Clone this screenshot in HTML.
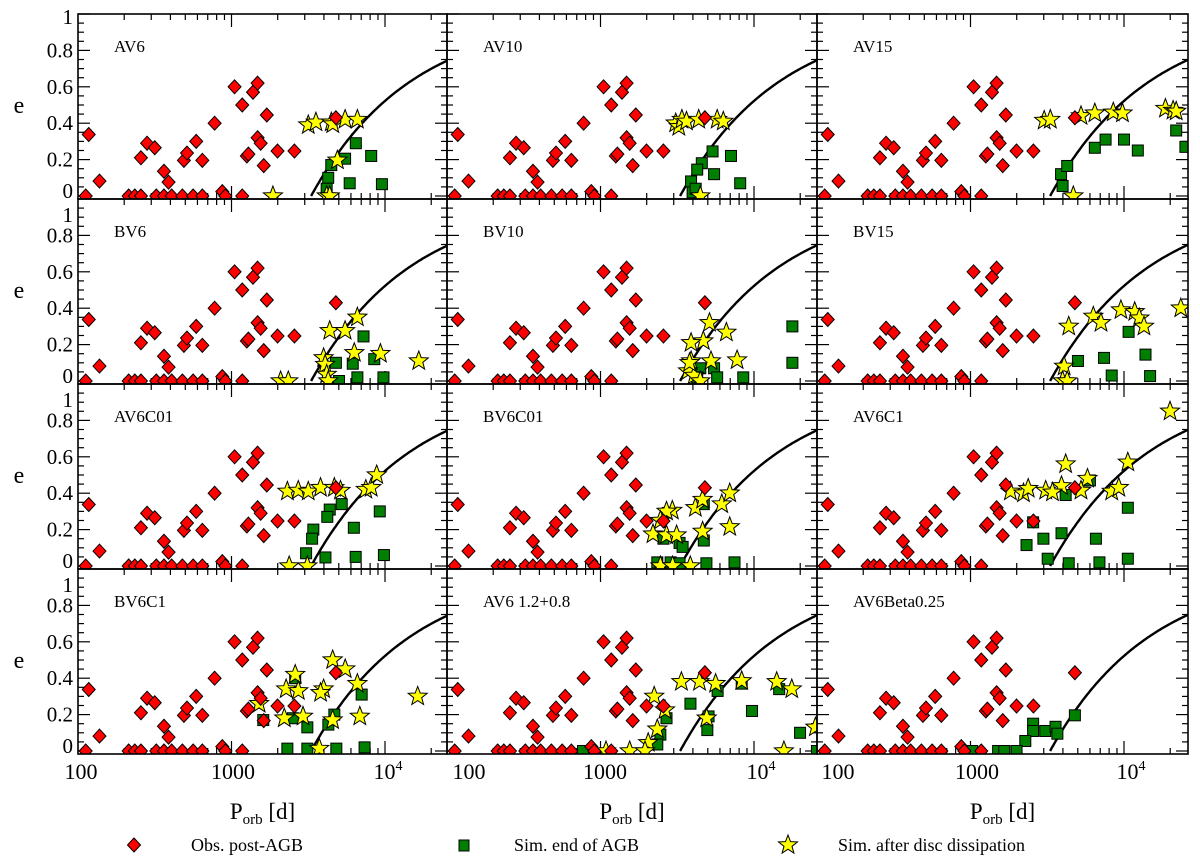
<!DOCTYPE html>
<html><head><meta charset="utf-8"><style>
html,body{margin:0;padding:0;background:#fff}
svg{display:block}
text{font-family:"Liberation Serif",serif;fill:#000}
</style></head><body>
<svg id="chart" width="1200" height="863" viewBox="0 0 1200 863" xmlns="http://www.w3.org/2000/svg"></svg>
<script>
// Observed post-AGB binaries (log10 P [d], e)
const obsLogP = [2.07,2.14,2.05,2.33,2.37,2.41,2.51,2.56,2.61,2.68,2.75,2.81,2.94,2.96,3.07,2.41,2.45,2.50,2.56,2.59,2.69,2.71,2.77,2.81,2.89,3.02,3.07,3.10,3.11,3.14,3.17,3.17,3.19,3.21,3.23,3.30,3.41,3.68];
const obsE    = [0.338,0.082,0,0,0,0,0,0,0,0,0,0,0.024,0,0,0.21,0.29,0.265,0.136,0.076,0.196,0.236,0.30,0.196,0.40,0.60,0.50,0.22,0.23,0.57,0.62,0.32,0.29,0.167,0.445,0.247,0.247,0.43];

const panelNames = ["AV6","AV10","AV15","BV6","BV10","BV15","AV6C01","BV6C01","AV6C1","BV6C1","AV6 1.2+0.8","AV6Beta0.25"];

const av6GreenLogP = [3.81,3.74,3.91,3.65,3.63,3.77,3.98,3.62];
const av6GreenE    = [0.29,0.205,0.22,0.17,0.10,0.07,0.065,0.04];
const av6StarLogP  = [3.50,3.55,3.65,3.66,3.74,3.82,3.69,3.27,3.62,3.64];
const av6StarE     = [0.39,0.405,0.405,0.395,0.42,0.42,0.196,0,0,0];

const av10GreenLogP = [3.73,3.66,3.63,3.74,3.85,3.91,3.59,3.60,3.62];
const av10GreenE    = [0.245,0.18,0.145,0.12,0.22,0.07,0.08,0.02,0.04];
const av10StarLogP  = [3.49,3.51,3.53,3.56,3.64,3.76,3.80,3.65];
const av10StarE     = [0.40,0.38,0.42,0.41,0.42,0.42,0.41,0];

const av15GreenLogP = [3.59,3.60,3.63,3.81,3.88,4.00,4.09,4.34,4.40];
const av15GreenE    = [0.12,0.055,0.165,0.265,0.31,0.31,0.25,0.36,0.27];
const av15StarLogP  = [3.48,3.52,3.72,3.81,3.93,3.99,4.27,4.32,4.34,3.67];
const av15StarE     = [0.415,0.42,0.44,0.455,0.46,0.455,0.48,0.47,0.465,0];

const bv6GreenLogP = [3.86,3.68,3.79,3.93,3.82,3.99,3.70];
const bv6GreenE    = [0.245,0.10,0.095,0.12,0.02,0.02,0];
const bv6StarLogP  = [3.82,3.64,3.74,3.80,3.97,4.22,3.60,3.61,3.62,3.32,3.37,3.63];
const bv6StarE     = [0.35,0.276,0.276,0.155,0.15,0.11,0.127,0.09,0.036,0,0,0];

const bv10GreenLogP = [4.25,4.25,3.65,3.74,3.76,3.93,3.63];
const bv10GreenE    = [0.30,0.10,0.07,0.07,0.02,0.02,0.02];
const bv10StarLogP  = [3.71,3.82,3.67,3.59,3.89,3.72,3.59,3.57,3.61,3.65,3.58];
const bv10StarE     = [0.32,0.267,0.22,0.21,0.115,0.11,0.11,0.055,0.03,0,0.10];

const bv15GreenLogP = [3.70,3.87,4.03,4.14,3.92,4.17];
const bv15GreenE    = [0.11,0.127,0.27,0.145,0.03,0.027];
const bv15StarLogP  = [3.64,3.80,3.85,3.98,4.07,4.10,4.13,4.37,3.61,3.60,3.63];
const bv15StarE     = [0.30,0.355,0.32,0.39,0.38,0.345,0.30,0.40,0.08,0,0];

const av6c01GreenLogP = [3.718,3.64,3.624,3.533,3.525,3.486,3.612,3.797,3.966,3.809,3.993];
const av6c01GreenE    = [0.34,0.31,0.27,0.20,0.15,0.07,0.047,0.21,0.30,0.05,0.06];
const av6c01StarLogP  = [3.364,3.435,3.50,3.58,3.67,3.71,3.875,3.91,3.946,3.376,3.494];
const av6c01StarE     = [0.41,0.415,0.41,0.43,0.43,0.415,0.42,0.43,0.50,0,0];

const bv6c01GreenLogP = [3.673,3.41,3.515,3.535,3.673,3.37,3.457,3.515,3.69,3.873];
const bv6c01GreenE    = [0.34,0.15,0.127,0.105,0.14,0.02,0.02,0.015,0.015,0.02];
const bv6c01StarLogP  = [3.468,3.43,3.39,3.342,3.43,3.496,3.618,3.665,3.79,3.842,3.842,3.665,3.39,3.47,3.585];
const bv6c01StarE     = [0.305,0.30,0.25,0.175,0.17,0.17,0.32,0.365,0.34,0.40,0.215,0.19,0,0,0];

const av6c1GreenLogP = [3.62,3.778,4.025,3.408,3.475,3.593,3.817,3.365,3.503,3.64,3.84,4.025];
const av6c1GreenE    = [0.39,0.47,0.32,0.24,0.15,0.18,0.15,0.115,0.04,0.015,0.02,0.04];
const av6c1StarLogP  = [4.30,3.62,4.025,3.762,3.26,3.345,3.376,3.49,3.593,3.534,3.72,3.92,3.966];
const av6c1StarE     = [0.85,0.56,0.57,0.48,0.41,0.40,0.425,0.415,0.44,0.405,0.415,0.41,0.43];

const bv6c1GreenLogP = [3.415,3.67,3.848,3.207,3.40,3.494,3.631,3.364,3.494,3.683,3.867];
const bv6c1GreenE    = [0.40,0.20,0.31,0.17,0.18,0.13,0.145,0.013,0.013,0.013,0.02];
const bv6c1StarLogP  = [3.659,3.741,3.415,3.356,3.435,3.60,3.58,3.82,3.18,3.344,3.466,3.659,3.836,4.213,3.572];
const bv6c1StarE     = [0.50,0.45,0.42,0.34,0.33,0.34,0.32,0.37,0.26,0.18,0.19,0.17,0.19,0.30,0.013];

const av6mGreenLogP = [3.92,3.763,4.164,3.586,3.987,3.43,3.704,3.696,3.39,3.37,4.30,2.886,4.41];
const av6mGreenE    = [0.37,0.33,0.34,0.26,0.22,0.18,0.19,0.115,0.09,0.036,0.10,0,0];
const av6mStarLogP  = [3.527,3.645,3.75,3.92,4.148,4.246,3.35,3.42,3.692,3.37,3.311,3.036,3.19,3.29,4.195,4.40];
const av6mStarE     = [0.38,0.38,0.37,0.385,0.38,0.34,0.30,0.225,0.18,0.12,0.045,0,0,0,0,0.13];

const betaGreenLogP = [3.68,3.408,3.408,3.487,3.554,3.566,3.357,3.30,3.18,3.22,3.011];
const betaGreenE    = [0.196,0.15,0.11,0.11,0.133,0.095,0.055,0,0,0,0];
const betaStarLogP  = [];
const betaStarE     = [];

const greenLogP = [av6GreenLogP,av10GreenLogP,av15GreenLogP,bv6GreenLogP,bv10GreenLogP,bv15GreenLogP,av6c01GreenLogP,bv6c01GreenLogP,av6c1GreenLogP,bv6c1GreenLogP,av6mGreenLogP,betaGreenLogP];
const greenE    = [av6GreenE,av10GreenE,av15GreenE,bv6GreenE,bv10GreenE,bv15GreenE,av6c01GreenE,bv6c01GreenE,av6c1GreenE,bv6c1GreenE,av6mGreenE,betaGreenE];
const starLogP  = [av6StarLogP,av10StarLogP,av15StarLogP,bv6StarLogP,bv10StarLogP,bv15StarLogP,av6c01StarLogP,bv6c01StarLogP,av6c1StarLogP,bv6c1StarLogP,av6mStarLogP,betaStarLogP];
const starE     = [av6StarE,av10StarE,av15StarE,bv6StarE,bv10StarE,bv15StarE,av6c01StarE,bv6c01StarE,av6c1StarE,bv6c1StarE,av6mStarE,betaStarE];

const yTickValues = [0,0.2,0.4,0.6,0.8,1];
const yTickLabels = ["0","0.2","0.4","0.6","0.8","1"];
const xTickLabels = ["100","1000","10"];
const curveP0 = 3300;

const NS = "http://www.w3.org/2000/svg";
const svg = document.getElementById("chart");
const colLeft = [78,447,817], colRight = [447,817,1188];
const rowTop = [14,199,384,569], rowH = 185, eSpan = 182, decade = 153.5;

function mk(tag, attrs, parent){
  const el = document.createElementNS(NS, tag);
  for (const k in attrs) el.setAttribute(k, attrs[k]);
  (parent||svg).appendChild(el);
  return el;
}
function xScale(col, lp){ return colLeft[col] + (lp - 2) * decade; }
function yScale(row, e){ return rowTop[row] + eSpan * (1 - e); }
function starPts(cx, cy, R, r){
  let s = [];
  for (let i=0;i<10;i++){ const a = -Math.PI/2 + i*Math.PI/5; const rr = i%2?r:R; s.push((cx+rr*Math.cos(a)).toFixed(1)+","+(cy+rr*Math.sin(a)).toFixed(1)); }
  return s.join(" ");
}

const defs = mk("defs", {});
for (let p=0;p<12;p++){
  const row = Math.floor(p/3), col = p%3;
  const cp = mk("clipPath", {id:"clip"+p}, defs);
  mk("rect", {x:colLeft[col], y:rowTop[row], width:colRight[col]-colLeft[col], height:rowH}, cp);
}

for (let p=0;p<12;p++){
  const row = Math.floor(p/3), col = p%3;
  const L = colLeft[col], R = colRight[col], T = rowTop[row], B = T + rowH;
  const g = mk("g", {});
  
  
  const tk = mk("g", {stroke:"#000","stroke-width":1.2}, g);
  
  
  // x ticks
  for (let d=2; d<=4; d++){
    for (let m=1; m<=9; m++){
      const lp = d + Math.log10(m);
      const x = xScale(col, lp);
      if (x <= L+0.5 || x >= R-0.5) continue;
      const len = m===1 ? 13 : 6;
      mk("line", {x1:x, y1:B, x2:x, y2:B-len}, tk);
      mk("line", {x1:x, y1:T, x2:x, y2:T+len}, tk);
    }
  }
  // y ticks
  for (let i=0;i<=20;i++){
    const e = i*0.05, y = yScale(row, e);
    const len = i%4===0 ? 12 : 6;
    mk("line", {x1:L, y1:y, x2:L+len, y2:y}, tk);
    mk("line", {x1:R, y1:y, x2:R-len, y2:y}, tk);
  }
  // curve
  let d = "";
  for (let lp = Math.log10(curveP0); lp <= 4.45; lp += 0.01){
    const e = 1 - Math.pow(Math.pow(10, lp)/curveP0, -2/3);
    d += (d ? "L" : "M") + xScale(col, lp).toFixed(1) + "," + yScale(row, e).toFixed(1);
  }
  const curve = mk("path", {d:d, fill:"none", stroke:"#000", "stroke-width":2.4, "clip-path":"url(#clip"+p+")"}, g);
  
  

  const mg = mk("g", {"clip-path":"url(#clip"+p+")"}, g);
  
  
  // green squares
  for (let i=0;i<greenLogP[p].length;i++){
    const x = xScale(col, greenLogP[p][i]), y = yScale(row, greenE[p][i]);
    const sq = mk("rect", {x:x-5.5, y:y-5.5, width:11, height:11, fill:"#007f00", stroke:"#000", "stroke-width":1}, mg);
    
    
  }
  // stars
  for (let i=0;i<starLogP[p].length;i++){
    const x = xScale(col, starLogP[p][i]), y = yScale(row, starE[p][i]);
    const st = mk("polygon", {points:starPts(x,y,10,4.2), fill:"#ffff00", stroke:"#000", "stroke-width":1}, mg);
    
    
  }
  // observed diamonds
  for (let i=0;i<obsLogP.length;i++){
    const x = xScale(col, obsLogP[i]), y = yScale(row, obsE[i]);
    const dm = mk("polygon", {points:`${x},${y-7} ${x+6.5},${y} ${x},${y+7} ${x-6.5},${y}`, fill:"#ff0000", stroke:"#000", "stroke-width":1}, mg);
    
    
  }
  // frame
  const fr = mk("rect", {x:L, y:T, width:R-L, height:rowH, fill:"none", stroke:"#000", "stroke-width":1.6}, g);
  
  
  // label
  const lb = mk("text", {x:L+36, y:T+38, "font-size":17}, g);
  lb.textContent = panelNames[p];
  
  

  // y tick labels
  if (col === 0){
    for (let i=0;i<yTickValues.length;i++){
      let y = yScale(row, yTickValues[i]);
      if (yTickValues[i] === 0) y -= 5;
      if (yTickValues[i] === 1) y = row === 0 ? T + 3 : T + 16;
      const t = mk("text", {x:73, y:y, "font-size":21, "text-anchor":"end", "dominant-baseline":"central"});
      t.textContent = yTickLabels[i];
      
      
    }
    const ey = mk("text", {x:19, y:T+92, "font-size":24, "text-anchor":"middle", "dominant-baseline":"central"});
    ey.textContent = "e";
    
    
  }
}

// x tick labels and titles
const xLabelPos = [[81,233,388],[469,605,761],[838,977,1131]];
for (let col=0; col<3; col++){
  for (let i=0;i<3;i++){
    const t = mk("text", {x:xLabelPos[col][i], y:779, "font-size":22, "text-anchor":"middle"});
    
    
    t.textContent = xTickLabels[i];
    if (i === 2){
      const s = mk("tspan", {dy:-9, "font-size":14}, t);
      s.textContent = "4";
    }
  }
  const cx = (colLeft[col] + colRight[col]) / 2;
  const xt = mk("text", {x:cx, y:819, "font-size":23, "text-anchor":"middle"});
  
  
  const a = mk("tspan", {}, xt); a.textContent = "P";
  const b = mk("tspan", {dy:5, "font-size":15}, xt); b.textContent = "orb";
  const c = mk("tspan", {dy:-5}, xt); c.textContent = " [d]";
}

// legend
const lg = mk("g", {});


const l1 = mk("polygon", {points:"134,838 140.5,845 134,852 127.5,845", fill:"#ff0000", stroke:"#000"}, lg);
 
const l2 = mk("rect", {x:459, y:840, width:10, height:11, fill:"#007f00", stroke:"#000"}, lg);
 
const l3 = mk("polygon", {points:starPts(788,845,10,4.2), fill:"#ffff00", stroke:"#000"}, lg);
 
const legendTexts = [[191,"Obs. post-AGB"],[514,"Sim. end of AGB"],[838,"Sim. after disc dissipation"]];
for (const [x, s] of legendTexts){
  const t = mk("text", {x:x, y:851, "font-size":18}, lg);
  t.textContent = s;
  
  
}
</script>
</body></html>
